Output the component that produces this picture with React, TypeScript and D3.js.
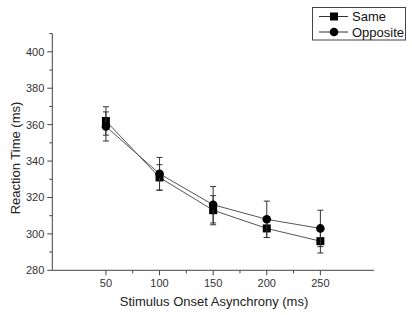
import React from "react";
import * as d3 from "d3";

const soa = [50, 100, 150, 200, 250];
const sameRT = [362, 331, 313, 303, 296];
const sameErr = [7.8, 7, 8, 5, 6.5];
const oppRT = [359, 333, 316, 308, 303];
const oppErr = [8, 9, 10, 10, 10];
const yMajorTicks = [280, 300, 320, 340, 360, 380, 400];
const yMinorTicks = [290, 310, 330, 350, 370, 390, 410];
const xMajorTicks = [50, 100, 150, 200, 250];
const xMinorTicks = [75, 125, 175, 225];
const seriesNames = ["Same", "Opposite"];

const W = 412, H = 315;
const left = 52.3, right = 374, top = 33.6, bottom = 270.3;

export default function App() {
  const x = d3.scaleLinear().domain([0, 300]).range([left, right]);
  const y = d3.scaleLinear().domain([280, 410]).range([bottom, top]);
  const line = d3.line<number>().x((_, i) => x(soa[i])).y((d) => y(d));
  const font = "'Liberation Sans', Arial, sans-serif";
  const axisColor = "#444";
  const series = [
    { name: seriesNames[0], vals: sameRT, err: sameErr, shape: "square" },
    { name: seriesNames[1], vals: oppRT, err: oppErr, shape: "circle" },
  ];
  const marker = (shape: string, cx: number, cy: number, key?: any) =>
    shape === "square" ? (
      <rect key={key} x={cx - 4} y={cy - 4} width={8} height={8} fill="#000" />
    ) : (
      <circle key={key} cx={cx} cy={cy} r={4.3} fill="#000" />
    );
  return (
    <svg width={W} height={H} style={{ position: "absolute", left: 0, top: 0, background: "#fff" }} fontFamily={font}>
      {/* axes */}
      <line x1={left} y1={top} x2={left} y2={bottom} stroke={axisColor} strokeWidth={1} />
      <line x1={left} y1={bottom} x2={right} y2={bottom} stroke={axisColor} strokeWidth={1} />
      {yMajorTicks.map((t) => (
        <g key={"ym" + t}>
          <line x1={left - 5} x2={left} y1={y(t)} y2={y(t)} stroke={axisColor} />
          <text x={left - 8} y={y(t) + 4} fontSize={11} textAnchor="end" fill="#333">{t}</text>
        </g>
      ))}
      {yMinorTicks.map((t) => (
        <line key={"yn" + t} x1={left - 3} x2={left} y1={y(t)} y2={y(t)} stroke={axisColor} />
      ))}
      {xMajorTicks.map((t) => (
        <g key={"xm" + t}>
          <line x1={x(t)} x2={x(t)} y1={bottom} y2={bottom + 5} stroke={axisColor} />
          <text x={x(t)} y={bottom + 17} fontSize={11} textAnchor="middle" fill="#333">{t}</text>
        </g>
      ))}
      {xMinorTicks.map((t) => (
        <line key={"xn" + t} x1={x(t)} x2={x(t)} y1={bottom} y2={bottom + 3} stroke={axisColor} />
      ))}
      <text x={214} y={306} fontSize={13} textAnchor="middle" fill="#222">Stimulus Onset Asynchrony (ms)</text>
      <text transform={`translate(20,158) rotate(-90)`} fontSize={13} textAnchor="middle" fill="#222">Reaction Time (ms)</text>

      {/* series */}
      {series.map((s) => (
        <g key={s.name}>
          <path d={line(s.vals) || ""} fill="none" stroke="#555" strokeWidth={1} />
          {s.vals.map((v, i) => (
            <g key={i} stroke="#333" strokeWidth={1}>
              <line x1={x(soa[i])} x2={x(soa[i])} y1={y(v - s.err[i])} y2={y(v + s.err[i])} />
              <line x1={x(soa[i]) - 3} x2={x(soa[i]) + 3} y1={y(v + s.err[i])} y2={y(v + s.err[i])} />
              <line x1={x(soa[i]) - 3} x2={x(soa[i]) + 3} y1={y(v - s.err[i])} y2={y(v - s.err[i])} />
            </g>
          ))}
          {s.vals.map((v, i) => marker(s.shape, x(soa[i]), y(v), i))}
        </g>
      ))}

      {/* legend */}
      <rect x={312.5} y={7.5} width={93} height={32.5} fill="#fff" stroke="#444" strokeWidth={1} />
      {series.map((s, i) => {
        const ly = 16.5 + i * 15.5;
        return (
          <g key={"lg" + s.name}>
            <line x1={319} x2={348} y1={ly} y2={ly} stroke="#333" />
            {marker(s.shape, 334, ly)}
            <text x={352} y={ly + 4.5} fontSize={13} fill="#111">{s.name}</text>
          </g>
        );
      })}
    </svg>
  );
}
